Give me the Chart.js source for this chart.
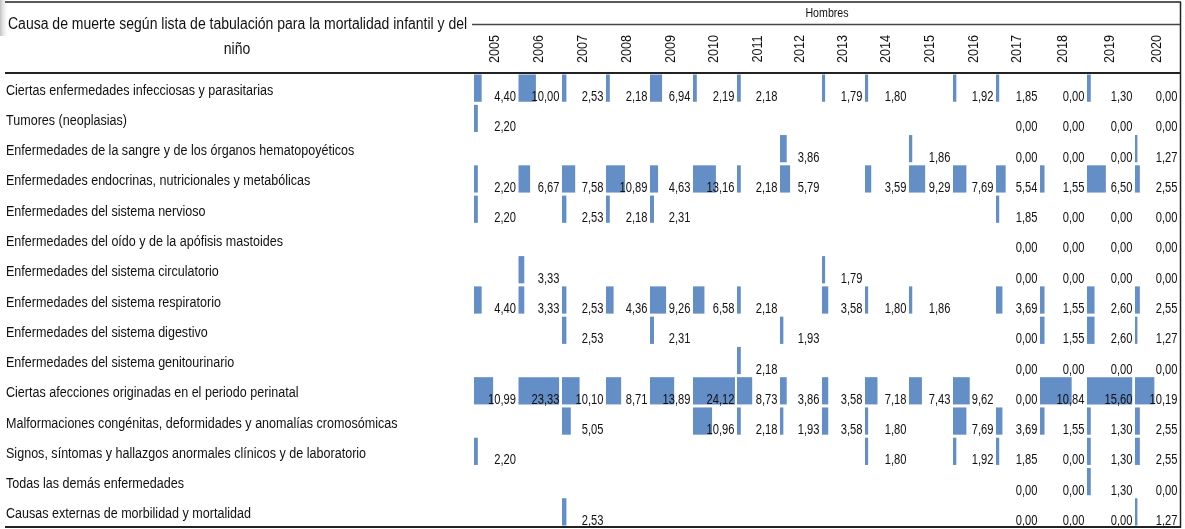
<!DOCTYPE html>
<html>
<head>
<meta charset="utf-8">
<title>Causa de muerte - Hombres</title>
<script src="https://cdn.jsdelivr.net/npm/chart.js@4.4.1/dist/chart.umd.min.js"></script>
<style>
  html, body { margin: 0; padding: 0; background: #fff; }
  canvas { display: block; }
</style>
</head>
<body>
<canvas id="chart" width="1185" height="529"></canvas>
<script>
const causes = [
  'Ciertas enfermedades infecciosas y parasitarias',
  'Tumores (neoplasias)',
  'Enfermedades de la sangre y de los órganos hematopoyéticos',
  'Enfermedades endocrinas, nutricionales y metabólicas',
  'Enfermedades del sistema nervioso',
  'Enfermedades del oído y de la apófisis mastoides',
  'Enfermedades del sistema circulatorio',
  'Enfermedades del sistema respiratorio',
  'Enfermedades del sistema digestivo',
  'Enfermedades del sistema genitourinario',
  'Ciertas afecciones originadas en el periodo perinatal',
  'Malformaciones congénitas, deformidades y anomalías cromosómicas',
  'Signos, síntomas y hallazgos anormales clínicos y de laboratorio',
  'Todas las demás enfermedades',
  'Causas externas de morbilidad y mortalidad'
];
const years = ['2005', '2006', '2007', '2008', '2009', '2010', '2011', '2012',
  '2013', '2014', '2015', '2016', '2017', '2018', '2019', '2020'];

// one array per year, rows in the order of `causes` (null = empty cell)
const v2005 = [4.40, 2.20, null, 2.20, 2.20, null, null, 4.40, null, null, 10.99, null, 2.20, null, null];
const v2006 = [10.00, null, null, 6.67, null, null, 3.33, 3.33, null, null, 23.33, null, null, null, null];
const v2007 = [2.53, null, null, 7.58, 2.53, null, null, 2.53, 2.53, null, 10.10, 5.05, null, null, 2.53];
const v2008 = [2.18, null, null, 10.89, 2.18, null, null, 4.36, null, null, 8.71, null, null, null, null];
const v2009 = [6.94, null, null, 4.63, 2.31, null, null, 9.26, 2.31, null, 13.89, null, null, null, null];
const v2010 = [2.19, null, null, 13.16, null, null, null, 6.58, null, null, 24.12, 10.96, null, null, null];
const v2011 = [2.18, null, null, 2.18, null, null, null, 2.18, null, 2.18, 8.73, 2.18, null, null, null];
const v2012 = [null, null, 3.86, 5.79, null, null, null, null, 1.93, null, 3.86, 1.93, null, null, null];
const v2013 = [1.79, null, null, null, null, null, 1.79, 3.58, null, null, 3.58, 3.58, null, null, null];
const v2014 = [1.80, null, null, 3.59, null, null, null, 1.80, null, null, 7.18, 1.80, 1.80, null, null];
const v2015 = [null, null, 1.86, 9.29, null, null, null, 1.86, null, null, 7.43, null, null, null, null];
const v2016 = [1.92, null, null, 7.69, null, null, null, null, null, null, 9.62, 7.69, 1.92, null, null];
const v2017 = [1.85, 0, 0, 5.54, 1.85, 0, 0, 3.69, 0, 0, 0, 3.69, 1.85, 0, 0];
const v2018 = [0, 0, 0, 1.55, 0, 0, 0, 1.55, 1.55, 0, 10.84, 1.55, 0, 0, 0];
const v2019 = [1.30, 0, 0, 6.50, 0, 0, 0, 2.60, 2.60, 0, 15.60, 1.30, 1.30, 1.30, 0];
const v2020 = [0, 0, 1.27, 2.55, 0, 0, 0, 2.55, 1.27, 0, 10.19, 2.55, 2.55, 0, 1.27];

const seriesByYear = [v2005, v2006, v2007, v2008, v2009, v2010, v2011, v2012,
  v2013, v2014, v2015, v2016, v2017, v2018, v2019, v2020];

// cell grid: x axis runs 0..706 across the year columns
const colEdges = [0, 44.5, 88, 132, 176, 219, 263, 306, 348, 391, 435, 479, 522, 566, 613, 661, 706];
// data-bar length per unit of value, per column (the last columns were scaled on their own)
const barScale = [1.74, 1.74, 1.74, 1.74, 1.74, 1.74, 1.74, 1.74, 1.74, 1.74, 1.74, 1.74, 1.74, 2.92, 2.9, 1.9];

const BAR_BLUE = '#638EC6';
const FONT = '"Liberation Sans", Arial, sans-serif';
const fmt = v => v.toFixed(2).replace('.', ',');

// the sheet uses a condensed face: squeeze regular text horizontally
function narrowText(ctx, text, x, y, size, sx, align) {
  ctx.save();
  ctx.font = `${size}px ${FONT}`;
  ctx.textAlign = align;
  ctx.translate(x, y);
  ctx.scale(sx, 1);
  ctx.fillText(text, 0, 0);
  ctx.restore();
}

const datasets = seriesByYear.map((vals, i) => ({
  label: years[i],
  data: vals.map(v => (v ? [colEdges[i], colEdges[i] + v * barScale[i]] : null)),
  backgroundColor: BAR_BLUE,
  borderWidth: 0,
  grouped: false,
  categoryPercentage: 1,
  barPercentage: 0.9
}));

// row labels and cell values
const cellText = {
  id: 'cellText',
  afterDatasetsDraw(chart) {
    const { ctx, scales: { x, y } } = chart;
    ctx.save();
    ctx.fillStyle = '#111';
    ctx.textBaseline = 'alphabetic';
    causes.forEach((c, j) => {
      narrowText(ctx, c, 6, y.getPixelForValue(j) + 6.5, 15.5, 0.81, 'left');
    });
    seriesByYear.forEach((vals, i) => {
      const right = x.getPixelForValue(colEdges[i + 1]) - 2.5;
      vals.forEach((v, j) => {
        if (v === null) return;
        narrowText(ctx, fmt(v), right, y.getPixelForValue(j) + 13, 15.5, 0.72, 'right');
      });
    });
    ctx.restore();
  }
};

// header block and rules of the table
const tableFrame = {
  id: 'tableFrame',
  afterDraw(chart) {
    const { ctx, chartArea: a, scales: { x } } = chart;
    ctx.save();

    // faint shadow at the top-left edge of the captured sheet
    const g = ctx.createLinearGradient(0, 0, 9, 0);
    g.addColorStop(0, 'rgba(150,150,150,0.6)');
    g.addColorStop(1, 'rgba(255,255,255,0)');
    ctx.fillStyle = g;
    ctx.fillRect(0, 0, 9, 36);

    ctx.strokeStyle = '#222';
    const rule = (x1, y1, x2, y2, w) => {
      ctx.lineWidth = w;
      ctx.beginPath();
      ctx.moveTo(x1, y1);
      ctx.lineTo(x2, y2);
      ctx.stroke();
    };
    rule(5, 2, a.right + 1, 2, 1.5);
    rule(a.right + 0.5, 2, a.right + 0.5, a.bottom + 1, 1.5);
    rule(5, a.top, a.right + 1, a.top, 2);
    rule(5, a.bottom, a.right + 1, a.bottom, 2);
    ctx.strokeStyle = '#444';
    rule(a.left - 2, 24.5, a.right, 24.5, 1.5);

    ctx.fillStyle = '#111';
    ctx.textBaseline = 'middle';
    narrowText(ctx, 'Hombres', (a.left + a.right) / 2, 14, 12.5, 0.85, 'center');
    narrowText(ctx, 'Causa de muerte según lista de tabulación para la mortalidad infantil y del', 8, 25, 16, 0.875, 'left');
    narrowText(ctx, 'niño', 237, 50, 16, 0.875, 'center');

    ctx.font = `14.5px ${FONT}`;
    ctx.textAlign = 'center';
    years.forEach((yr, i) => {
      const cx = x.getPixelForValue((colEdges[i] + colEdges[i + 1]) / 2) - 1;
      ctx.save();
      ctx.translate(cx, 49);
      ctx.rotate(-Math.PI / 2);
      ctx.scale(0.87, 1);
      ctx.fillText(yr, 0, 0);
      ctx.restore();
    });
    ctx.restore();
  }
};

new Chart(document.getElementById('chart'), {
  type: 'bar',
  data: { labels: causes, datasets },
  options: {
    indexAxis: 'y',
    responsive: false,
    devicePixelRatio: 1,
    animation: false,
    layout: { padding: { top: 73, bottom: 2, left: 6, right: 5 } },
    plugins: { legend: { display: false }, tooltip: { enabled: false } },
    scales: {
      x: { type: 'linear', min: 0, max: 706, display: false },
      y: {
        type: 'category',
        grid: { display: false },
        border: { display: false },
        ticks: { display: false, autoSkip: false },
        afterFit(scale) { scale.width = 468; }
      }
    }
  },
  plugins: [cellText, tableFrame]
});
</script>
</body>
</html>
